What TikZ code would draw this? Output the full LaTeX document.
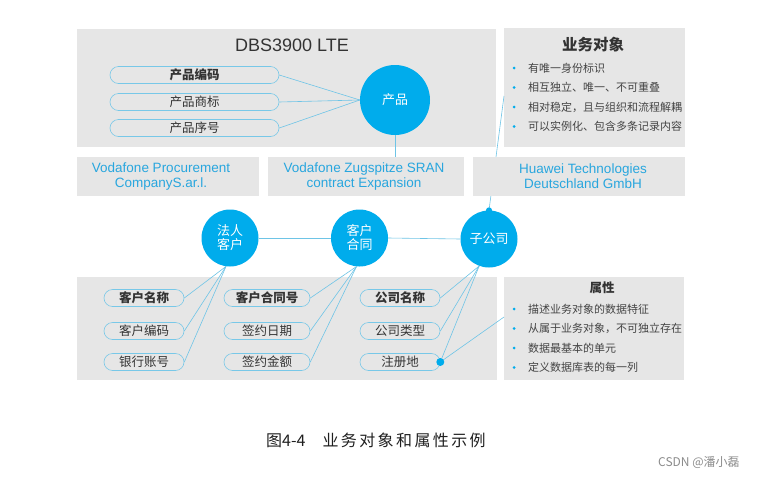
\documentclass[tikz,border=0pt]{standalone}
\usepackage{fontspec}
\setmainfont{Liberation Sans}
\newfontfamily\cjk{Noto Sans CJK SC}
\definecolor{panelgray}{RGB}{230,230,230}
\definecolor{objblue}{RGB}{0,172,236}
\definecolor{lineblue}{RGB}{110,196,230}
\definecolor{pillblue}{RGB}{120,200,232}
\definecolor{txtblue}{RGB}{40,166,222}
\definecolor{txtdark}{RGB}{51,51,51}
\definecolor{txtgray}{RGB}{68,68,68}

\begin{document}
\begin{tikzpicture}[x=1pt,y=-1pt,
  panel/.style={fill=panelgray},
  pill/.style={draw=pillblue,line width=0.6pt,fill=panelgray,rounded corners=8.5pt,minimum height=17pt,inner sep=0pt,text=txtdark,font=\cjk\fontsize{12.5}{14}\selectfont},
  pillb/.style={pill,font=\cjk\bfseries\fontsize{12.5}{14}\selectfont},
  obj/.style={circle,fill=objblue,text=white,inner sep=0pt,align=center,font=\cjk\fontsize{13}{14}\selectfont},
  link/.style={draw=lineblue,line width=0.6pt},
  cotxt/.style={text=txtblue,align=center,font=\fontsize{13.5}{15}\selectfont},
  bultxt/.style={anchor=west,inner sep=0pt,text=txtgray,font=\cjk\fontsize{11}{12}\selectfont},
  bdot/.style={fill=objblue},
]
\useasboundingbox (0,0) rectangle (773,477);
\fill[white] (0,0) rectangle (773,477);

%Shape: Panels
\fill[panel] (77,29) rectangle (496,147);
\fill[panel] (504,28) rectangle (685,147);
\fill[panel] (77,277) rectangle (497,380);
\fill[panel] (504,277) rectangle (684,380);
\coordinate (ywin) at (504,96);
\coordinate (sxin) at (504,317);

%Objects
\node[obj,minimum size=70pt] (cp) at (395,100) {产品};
\node[obj,minimum size=57pt] (fr) at (230,238) {法人\\客户};
\node[obj,minimum size=57pt] (ht) at (359.5,238) {客户\\合同};
\node[obj,minimum size=57pt] (zgs) at (489,239) {子公司};

%Straight Lines (behind the middle row)
\draw[link] (zgs.north) -- (ywin);

%Shape: Middle row
\fill[panel] (77,157) rectangle (259,196);
\fill[panel] (268,157) rectangle (464,196);
\fill[panel] (473,157) rectangle (685,196);

% Text Node
\node[cotxt] (vpc) at (161,176.5) {Vodafone Procurement\\CompanyS.ar.l.};
\node[cotxt] (vzs) at (364,176.5) {Vodafone Zugspitze SRAN\\contract Expansion};
\node[cotxt] (htd) at (583,176.5) {Huawei Technologies\\Deutschland GmbH};

% Text Node
\node[text=txtdark,font=\fontsize{18}{20}\selectfont] (dbs) at (292,45) {DBS3900 LTE};

%Product attributes
\node[pillb,minimum width=169pt] (cpbm) at (194.5,75) {产品编码};
\node[pill,minimum width=169pt] (cpsb) at (194.5,102) {产品商标};
\node[pill,minimum width=169pt] (cpxh) at (194.5,128) {产品序号};
\foreach \p in {cpbm,cpsb,cpxh}
  \draw[link] (\p.east) -- (cp.west);
\draw[link] (cp.south) -- ++(0,22);

%Straight Lines
\draw[link] (fr.east) -- (ht.west);
\draw[link] (ht.east) -- (zgs.west);

%Customer attributes
\node[pillb,minimum width=80pt] (khmc) at (144,298) {客户名称};
\node[pill,minimum width=80pt] (khbm) at (144,331) {客户编码};
\node[pill,minimum width=80pt] (yhzh) at (144,362) {银行账号};
\foreach \p in {khmc,khbm,yhzh}
  \draw[link] (\p.east) -- (fr.262);

\node[pillb,minimum width=86pt] (hth) at (267,298) {客户合同号};
\node[pill,minimum width=86pt] (qyrq) at (267,331) {签约日期};
\node[pill,minimum width=86pt] (qyje) at (267,362) {签约金额};
\foreach \p in {hth,qyrq,qyje}
  \draw[link] (\p.east) -- (ht.264);

\node[pillb,minimum width=80pt] (gsmc) at (400,298) {公司名称};
\node[pill,minimum width=80pt] (gslx) at (400,331) {公司类型};
\node[pill,minimum width=80pt] (zcd) at (400,362) {注册地};
\foreach \p in {gsmc,gslx,zcd}
  \draw[link] (\p.east) -- (zgs.250);
\draw[link] (zcd.east) -- (sxin);
\fill[objblue] (zcd.east) circle (4);
\fill[objblue] (zgs.north) circle (3);

%Business object notes
\node[text=txtdark,font=\cjk\bfseries\fontsize{15.5}{17}\selectfont] (ywdx) at (593,45) {业务对象};
\foreach \t [count=\i] in {有唯一身份标识,相互独立、唯一、不可重叠,相对稳定，且与组织和流程解耦,可以实例化、包含多条记录内容} {
  \fill[bdot] (514,{48.5+19.5*\i}) circle (1.5);
  \node[bultxt] (yw\i) at (528,{48.5+19.5*\i}) {\t};
}

%Attribute notes
\node[text=txtdark,font=\cjk\bfseries\fontsize{12.5}{14}\selectfont] (sx) at (602,288) {属性};
\foreach \t [count=\i] in {描述业务对象的数据特征,从属于业务对象，不可独立存在,数据最基本的单元,定义数据库表的每一列} {
  \fill[bdot] (514,{289.5+19.5*\i}) circle (1.5);
  \node[bultxt] (sx\i) at (528,{289.5+19.5*\i}) {\t};
}

% Caption
\node[anchor=west,inner sep=0pt,text=black!88,font=\cjk\fontsize{16}{18}\selectfont] (cap) at (266,440) {图4-4\hspace{17pt}{\addfontfeature{LetterSpace=15}业务对象和属性示例}};
\node[anchor=west,inner sep=0pt,text=black!45,font=\cjk\fontsize{12}{14}\selectfont] (mark) at (658,462) {CSDN @潘小磊};

\end{tikzpicture}
\end{document}
